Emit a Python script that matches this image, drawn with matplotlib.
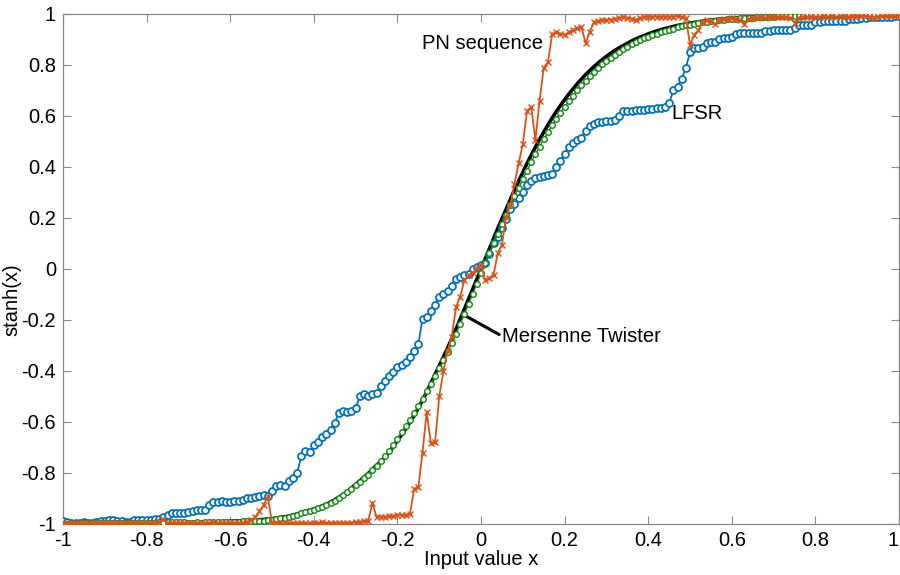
import numpy as np
import matplotlib
matplotlib.use('Agg')
import matplotlib.pyplot as plt

plt.rcParams['font.family'] = ['Liberation Sans', 'DejaVu Sans']
plt.rcParams['axes.unicode_minus'] = False

###################
###  Chart data  ###
###################
# input grid, one sample every 0.01
x = np.linspace(-1, 1, 201)

# ideal curve (black)
ideal = [
    -0.999, -0.999, -0.999, -0.999, -0.999, -0.999, -0.999, -0.999, -0.999, -0.999,
    -0.999, -0.999, -0.999, -0.999, -0.998, -0.998, -0.998, -0.998, -0.998, -0.998,
    -0.998, -0.998, -0.997, -0.997, -0.997, -0.996, -0.996, -0.996, -0.995, -0.995,
    -0.995, -0.994, -0.994, -0.993, -0.993, -0.992, -0.992, -0.991, -0.991, -0.990,
    -0.989, -0.988, -0.988, -0.987, -0.986, -0.985, -0.984, -0.983, -0.982, -0.980,
    -0.979, -0.977, -0.975, -0.972, -0.969, -0.965, -0.961, -0.956, -0.951, -0.946,
    -0.941, -0.935, -0.929, -0.922, -0.914, -0.905, -0.895, -0.884, -0.872, -0.859,
    -0.845, -0.831, -0.817, -0.802, -0.786, -0.770, -0.755, -0.738, -0.718, -0.697,
    -0.673, -0.650, -0.626, -0.601, -0.575, -0.545, -0.514, -0.482, -0.448, -0.414,
    -0.380, -0.345, -0.310, -0.273, -0.236, -0.197, -0.159, -0.119, -0.080, -0.040,
    0.000, 0.040, 0.080, 0.119, 0.159, 0.197, 0.236, 0.273, 0.310, 0.345,
    0.380, 0.414, 0.446, 0.478, 0.508, 0.537, 0.565, 0.592, 0.617, 0.641,
    0.664, 0.686, 0.706, 0.726, 0.744, 0.762, 0.778, 0.793, 0.808, 0.821,
    0.834, 0.846, 0.857, 0.867, 0.876, 0.885, 0.894, 0.902, 0.909, 0.915,
    0.922, 0.928, 0.933, 0.938, 0.943, 0.947, 0.951, 0.955, 0.958, 0.961,
    0.964, 0.967, 0.969, 0.972, 0.974, 0.976, 0.978, 0.979, 0.981, 0.982,
    0.984, 0.985, 0.986, 0.987, 0.988, 0.989, 0.990, 0.991, 0.991, 0.992,
    0.993, 0.993, 0.994, 0.994, 0.995, 0.995, 0.996, 0.996, 0.996, 0.997,
    0.997, 0.997, 0.997, 0.998, 0.998, 0.998, 0.998, 0.998, 0.998, 0.998,
    0.999, 0.999, 0.999, 0.999, 0.999, 0.999, 0.999, 0.999, 0.999, 0.999, 0.999,
]

# LFSR (blue)
lfsr = [
    -0.990, -0.992, -0.995, -0.997, -0.995, -0.993, -0.995, -0.997, -0.993, -0.990,
    -0.988, -0.986, -0.986, -0.988, -0.990, -0.992, -0.993, -0.986, -0.983, -0.984,
    -0.986, -0.985, -0.982, -0.980, -0.972, -0.964, -0.957, -0.955, -0.956, -0.957,
    -0.953, -0.948, -0.945, -0.946, -0.947, -0.925, -0.915, -0.912, -0.910, -0.912,
    -0.912, -0.910, -0.908, -0.905, -0.900, -0.897, -0.893, -0.890, -0.888, -0.892,
    -0.870, -0.850, -0.848, -0.850, -0.832, -0.820, -0.800, -0.735, -0.712, -0.718,
    -0.690, -0.680, -0.660, -0.648, -0.630, -0.602, -0.565, -0.558, -0.560, -0.555,
    -0.545, -0.500, -0.492, -0.498, -0.490, -0.487, -0.460, -0.440, -0.420, -0.405,
    -0.385, -0.375, -0.365, -0.345, -0.320, -0.295, -0.195, -0.190, -0.165, -0.140,
    -0.110, -0.100, -0.085, -0.065, -0.040, -0.030, -0.025, -0.018, 0.000, 0.008,
    0.015, 0.022, 0.060, 0.100, 0.125, 0.160, 0.195, 0.235, 0.255, 0.280,
    0.300, 0.330, 0.345, 0.355, 0.360, 0.365, 0.370, 0.372, 0.400, 0.425,
    0.450, 0.480, 0.495, 0.505, 0.515, 0.540, 0.560, 0.570, 0.575, 0.578,
    0.580, 0.582, 0.585, 0.600, 0.618, 0.620, 0.621, 0.622, 0.624, 0.625,
    0.626, 0.628, 0.630, 0.632, 0.634, 0.650, 0.700, 0.715, 0.745, 0.790,
    0.850, 0.868, 0.868, 0.870, 0.888, 0.890, 0.890, 0.902, 0.905, 0.906,
    0.908, 0.922, 0.925, 0.925, 0.926, 0.926, 0.927, 0.927, 0.935, 0.935,
    0.936, 0.936, 0.937, 0.937, 0.938, 0.945, 0.957, 0.957, 0.958, 0.958,
    0.970, 0.970, 0.971, 0.971, 0.972, 0.972, 0.973, 0.973, 0.980, 0.981,
    0.982, 0.985, 0.986, 0.987, 0.987, 0.988, 0.989, 0.990, 0.990, 0.991, 0.992,
]

# Mersenne Twister (green)
mt = [
    -0.999, -0.999, -0.998, -0.999, -0.998, -0.998, -0.999, -0.998, -0.997, -0.998,
    -0.998, -0.997, -0.998, -0.997, -0.997, -0.996, -0.997, -0.996, -0.996, -0.995,
    -0.996, -0.995, -0.995, -0.994, -0.995, -0.994, -0.993, -0.994, -0.993, -0.992,
    -0.995, -0.995, -0.994, -0.995, -0.994, -0.993, -0.994, -0.993, -0.993, -0.992,
    -0.992, -0.991, -0.991, -0.990, -0.990, -0.989, -0.988, -0.988, -0.987, -0.986,
    -0.984, -0.981, -0.978, -0.975, -0.971, -0.967, -0.963, -0.958, -0.953, -0.949,
    -0.945, -0.939, -0.933, -0.926, -0.918, -0.909, -0.899, -0.888, -0.876, -0.862,
    -0.848, -0.835, -0.821, -0.806, -0.790, -0.772, -0.752, -0.733, -0.712, -0.690,
    -0.665, -0.641, -0.616, -0.591, -0.565, -0.537, -0.509, -0.480, -0.450, -0.420,
    -0.390, -0.358, -0.325, -0.290, -0.253, -0.216, -0.177, -0.138, -0.098, -0.058,
    -0.017, 0.024, 0.062, 0.100, 0.139, 0.176, 0.213, 0.249, 0.285, 0.319,
    0.352, 0.386, 0.418, 0.450, 0.480, 0.509, 0.537, 0.563, 0.588, 0.612,
    0.636, 0.659, 0.680, 0.701, 0.720, 0.739, 0.756, 0.772, 0.788, 0.802,
    0.816, 0.829, 0.841, 0.852, 0.862, 0.872, 0.881, 0.889, 0.897, 0.904,
    0.911, 0.917, 0.923, 0.929, 0.934, 0.939, 0.943, 0.947, 0.951, 0.955,
    0.958, 0.961, 0.964, 0.967, 0.969, 0.971, 0.973, 0.975, 0.977, 0.979,
    0.980, 0.982, 0.983, 0.984, 0.985, 0.986, 0.987, 0.988, 0.989, 0.990,
    0.990, 0.991, 0.992, 0.992, 0.993, 0.993, 0.994, 0.994, 0.995, 0.995,
    0.996, 0.996, 0.996, 0.997, 0.997, 0.997, 0.997, 0.998, 0.998, 0.998,
    0.998, 0.998, 0.998, 0.998, 0.999, 0.999, 0.999, 0.999, 0.999, 0.999, 0.999,
]

# PN sequence (orange)
pn = [
    -0.998, -0.998, -0.997, -0.998, -0.998, -0.997, -0.998, -0.998, -0.997, -0.998,
    -0.998, -0.996, -0.998, -0.997, -0.998, -0.998, -0.997, -0.998, -0.997, -0.998,
    -0.998, -0.997, -0.997, -0.993, -0.982, -0.997, -0.998, -0.997, -0.998, -0.997,
    -0.998, -0.997, -0.998, -0.997, -0.996, -0.998, -0.993, -0.998, -0.997, -0.996,
    -0.997, -0.998, -0.997, -0.996, -0.993, -0.985, -0.972, -0.950, -0.925, -0.892,
    -0.997, -0.998, -0.997, -0.998, -0.997, -0.998, -0.997, -0.996, -0.997, -0.998,
    -0.997, -0.998, -0.994, -0.997, -0.996, -0.997, -0.996, -0.995, -0.996, -0.995,
    -0.993, -0.992, -0.990, -0.988, -0.918, -0.972, -0.971, -0.972, -0.970, -0.969,
    -0.965, -0.964, -0.965, -0.960, -0.862, -0.855, -0.720, -0.560, -0.683, -0.680,
    -0.500, -0.400, -0.320, -0.265, -0.150, -0.108, -0.045, -0.025, -0.016, 0.004,
    0.016, -0.043, -0.035, -0.022, 0.062, 0.095, 0.205, 0.250, 0.335, 0.415,
    0.490, 0.620, 0.635, 0.505, 0.660, 0.790, 0.810, 0.920, 0.928, 0.922,
    0.918, 0.928, 0.938, 0.945, 0.950, 0.886, 0.930, 0.968, 0.972, 0.975,
    0.976, 0.978, 0.980, 0.985, 0.988, 0.985, 0.980, 0.976, 0.985, 0.988,
    0.990, 0.988, 0.990, 0.988, 0.990, 0.989, 0.990, 0.991, 0.989, 0.985,
    0.878, 0.918, 0.937, 0.970, 0.975, 0.972, 0.960, 0.975, 0.980, 0.982,
    0.983, 0.982, 0.975, 0.962, 0.980, 0.985, 0.986, 0.987, 0.986, 0.988,
    0.987, 0.988, 0.989, 0.988, 0.985, 0.966, 0.985, 0.988, 0.989, 0.990,
    0.989, 0.990, 0.991, 0.990, 0.991, 0.990, 0.991, 0.992, 0.990, 0.991,
    0.992, 0.991, 0.992, 0.990, 0.985, 0.990, 0.992, 0.993, 0.992, 0.993, 0.993,
]

tick_vals = [-1, -0.8, -0.6, -0.4, -0.2, 0, 0.2, 0.4, 0.6, 0.8, 1]
tick_labels = ['-1', '-0.8', '-0.6', '-0.4', '-0.2', '0', '0.2', '0.4', '0.6', '0.8', '1']

blue = '#0072BD'
orange = '#D95319'
green = '#0B8A0B'
fs = 14.5

##############
###  Plot  ###
##############
fig = plt.figure(figsize=(9, 5.75), dpi=100)
ax = fig.add_axes([0.07, 0.0887, 0.929, 0.887])

ax.plot(x, ideal, color='black', lw=2.6, zorder=2)
ax.plot(x, lfsr, color=blue, lw=1.3, marker='o', ms=5.0, mfc='white',
        mec=blue, mew=1.3, zorder=3)
ax.plot(x, mt, color=green, lw=1.0, marker='o', ms=4.0, mfc='white',
        mec=green, mew=1.0, zorder=4)
ax.plot(x, pn, color=orange, lw=1.3, marker='x', ms=3.8, mew=1.0, zorder=5)
ax.plot(x, pn, color=orange, lw=0, marker='|', ms=3.2, mew=0.8, zorder=5)

ax.text(0.148, 0.886, 'PN sequence', ha='right', va='center', fontsize=fs)
ax.text(0.455, 0.608, 'LFSR', ha='left', va='center', fontsize=fs)
ax.annotate('Mersenne Twister', xy=(-0.037, -0.184), xytext=(0.05, -0.263),
            ha='left', va='center', fontsize=fs,
            arrowprops=dict(arrowstyle='-', color='black', lw=2.2,
                            shrinkA=0, shrinkB=0, relpos=(0, 0.5)))

ax.set_xlim(-1, 1)
ax.set_ylim(-1, 1)
ax.set_xticks(tick_vals)
ax.set_xticklabels(tick_labels)
ax.set_yticks(tick_vals)
ax.set_yticklabels(tick_labels)
ax.tick_params(direction='in', length=6, width=0.8, color='#888888',
               labelsize=fs, top=True, right=True, pad=5)
ax.get_xticklabels()[-1].set_ha('right')
for s in ax.spines.values():
    s.set_color('#888888')
    s.set_linewidth(0.9)

ax.set_xlabel('Input value x', fontsize=fs, labelpad=0)
ax.set_ylabel('stanh(x)', fontsize=fs)
ax.yaxis.set_label_coords(-0.05, 0.44)

plt.savefig('out.png', dpi=100)
